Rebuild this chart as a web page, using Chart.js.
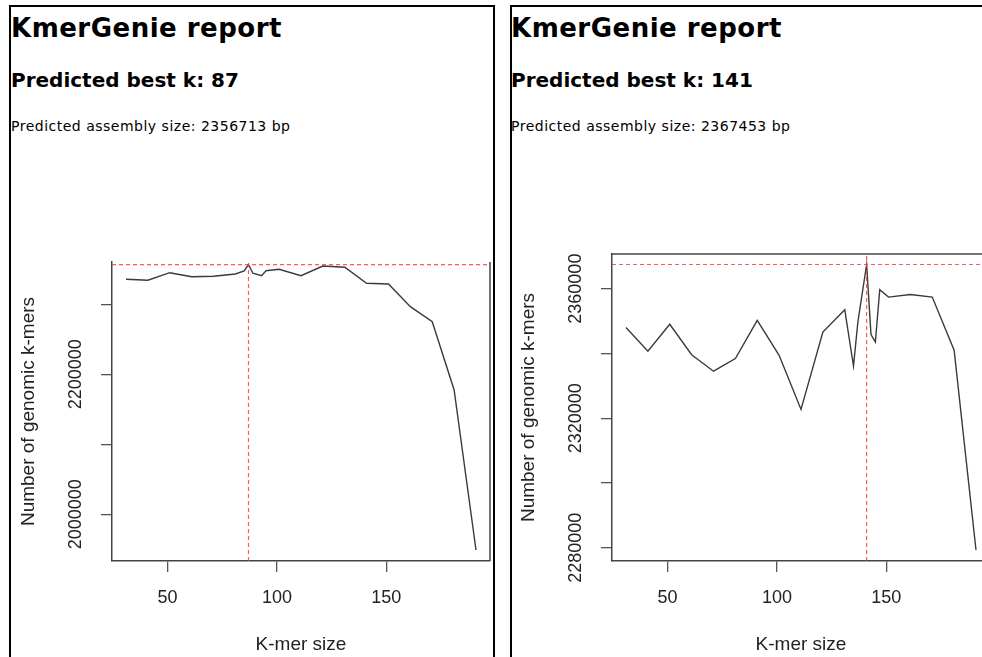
<!DOCTYPE html>
<html>
<head>
<meta charset="utf-8">
<title>KmerGenie report</title>
<script src="https://cdn.jsdelivr.net/npm/chart.js@4.4.1/dist/chart.umd.min.js"></script>
<style>
    html, body {
        margin: 0;
        padding: 0;
        width: 982px;
        height: 657px;
        overflow: hidden;
        background: #fff;
    }
    .panel {
        position: absolute;
        top: 5px;
        height: 700px;
        border: 2px solid #000;
        border-bottom: none;
        box-sizing: border-box;
    }
    .txt {
        position: absolute;
        font-family: "DejaVu Sans", sans-serif;
        line-height: 1;
        white-space: nowrap;
        color: #000;
    }
    .h1 { font-size: 26px; font-weight: bold; letter-spacing: 0.5px; }
    .h2 { font-size: 20px; font-weight: bold; }
    .small { font-size: 14px; letter-spacing: 0.5px; }
    canvas { position: absolute; }
</style>
</head>
<body>

<div class="panel" style="left:9px; width:486px;"></div>
<div class="panel" style="left:510px; width:600px;"></div>

<div class="txt h1" style="left:11px; top:15px;">KmerGenie report</div>
<div class="txt h2" style="left:11px; top:70px;">Predicted best k: <span id="bestLeft"></span></div>
<div class="txt small" style="left:11px; top:119px;">Predicted assembly size: <span id="sizeLeft"></span> bp</div>

<div class="txt h1" style="left:511px; top:15px;">KmerGenie report</div>
<div class="txt h2" style="left:511px; top:70px;">Predicted best k: <span id="bestRight"></span></div>
<div class="txt small" style="left:511px; top:119px;">Predicted assembly size: <span id="sizeRight"></span> bp</div>

<canvas id="leftChart" style="left:12px; top:150px;"></canvas>
<canvas id="rightChart" style="left:512px; top:150px;"></canvas>

<script>
// first run
const leftK = [31, 41, 51, 61, 71, 81, 85, 87, 89, 93, 95, 101, 111, 121, 131, 141, 151, 161, 171, 181, 191];
const leftCounts = [2335700, 2334300, 2345100, 2339400, 2340000, 2343300, 2347600, 2356713, 2344300, 2340900, 2348000,
    2350000, 2340900, 2354700, 2352900, 2330000, 2329000, 2296600, 2275100, 2177600, 1949000];
const leftBestK = 87;
const leftBestSize = 2356713;
const leftYTicks = [2000000, 2100000, 2200000, 2300000];
const leftYLabels = [2000000, 2200000];
const leftYRange = [1933300, 2360400];

// second run
const rightK = [31, 41, 51, 61, 71, 81, 91, 101, 111, 121, 131, 135, 137, 141, 143, 145, 147, 151, 161, 171, 181, 191];
const rightCounts = [2348000, 2340700, 2349000, 2339600, 2334500, 2338400, 2350200, 2339400, 2322700, 2346600, 2353500,
    2336100, 2349700, 2367453, 2345800, 2343500, 2359700, 2357400, 2358200, 2357400, 2341000, 2279300];
const rightBestK = 141;
const rightBestSize = 2367453;
const rightYTicks = [2280000, 2300000, 2320000, 2340000, 2360000];
const rightYLabels = [2280000, 2320000, 2360000];
const rightYRange = [2275900, 2370700];

const xTicks = [50, 100, 150];
const xRange = [24.6, 197.4];

document.addEventListener('DOMContentLoaded', () => {
    document.getElementById('bestLeft').textContent = leftBestK;
    document.getElementById('sizeLeft').textContent = leftBestSize;
    document.getElementById('bestRight').textContent = rightBestK;
    document.getElementById('sizeRight').textContent = rightBestSize;

    renderKmerChart('leftChart', {
        k: leftK, counts: leftCounts, bestK: leftBestK, bestSize: leftBestSize,
        yTicks: leftYTicks, yLabels: leftYLabels, yRange: leftYRange,
        topPad: 112, sides: ['right'],
    });
    renderKmerChart('rightChart', {
        k: rightK, counts: rightCounts, bestK: rightBestK, bestSize: rightBestSize,
        yTicks: rightYTicks, yLabels: rightYLabels, yRange: rightYRange,
        topPad: 104, sides: ['top'],
    });
});

const axisFont = { family: '"Liberation Sans", Arial, sans-serif', size: 19 };
const tickFont = { family: '"Liberation Sans", Arial, sans-serif', size: 18 };

// extra frame sides and rotated y labels, like R's plot()
const rFramePlugin = {
    id: 'rFrame',
    afterDraw(chart, args, opts) {
        const { ctx, chartArea, scales } = chart;
        ctx.save();
        ctx.strokeStyle = '#444';
        ctx.lineWidth = 1.5;
        ctx.beginPath();
        if (opts.sides.includes('right')) {
            ctx.moveTo(chartArea.right, chartArea.top);
            ctx.lineTo(chartArea.right, chartArea.bottom);
        }
        if (opts.sides.includes('top')) {
            ctx.moveTo(chartArea.left, chartArea.top);
            ctx.lineTo(chartArea.right + 20, chartArea.top);
        }
        ctx.stroke();

        ctx.fillStyle = '#222';
        ctx.font = tickFont.size + 'px ' + tickFont.family;
        ctx.textAlign = 'center';
        ctx.textBaseline = 'middle';
        opts.labels.forEach(value => {
            const y = scales.y.getPixelForValue(value);
            ctx.save();
            ctx.translate(64, y);
            ctx.rotate(-Math.PI / 2);
            ctx.fillText(String(value), 0, 0);
            ctx.restore();
        });
        ctx.restore();
    },
};

function renderKmerChart(id, d) {
    const canvas = document.getElementById(id);
    canvas.width = 480;
    canvas.height = 507;

    const points = d.k.map((k, i) => ({ x: k, y: d.counts[i] }));
    const dashed = {
        borderColor: 'rgba(255, 60, 60, 0.85)',
        borderWidth: 1.2,
        borderDash: [4, 3],
        pointRadius: 0,
        fill: false,
    };

    new Chart(canvas.getContext('2d'), {
        type: 'line',
        data: {
            datasets: [
                Object.assign({ data: [{ x: xRange[0], y: d.bestSize }, { x: xRange[1], y: d.bestSize }] }, dashed),
                Object.assign({ data: [{ x: d.bestK, y: d.yRange[0] }, { x: d.bestK, y: d.yRange[1] }] }, dashed),
                {
                    data: points,
                    borderColor: '#3a3a3a',
                    borderWidth: 1.4,
                    pointRadius: 0,
                    tension: 0,
                    fill: false,
                },
            ],
        },
        options: {
            responsive: false,
            animation: false,
            events: [],
            layout: { padding: { top: d.topPad, right: 2, left: 0, bottom: 0 } },
            plugins: {
                legend: { display: false },
                tooltip: { enabled: false },
                rFrame: { sides: d.sides, labels: d.yLabels },
            },
            scales: {
                x: {
                    type: 'linear',
                    min: xRange[0],
                    max: xRange[1],
                    afterBuildTicks: scale => { scale.ticks = xTicks.map(v => ({ value: v })); },
                    afterFit: scale => { scale.height = 96; },
                    grid: { drawOnChartArea: false, drawTicks: true, tickLength: 11, color: '#555', lineWidth: 1.3 },
                    border: { display: true, color: '#444', width: 1.5 },
                    ticks: { autoSkip: false, maxRotation: 0, padding: 15, color: '#222', font: tickFont },
                    title: { display: true, text: 'K-mer size', color: '#222', font: axisFont, padding: { top: 0, bottom: 1 } },
                },
                y: {
                    type: 'linear',
                    min: d.yRange[0],
                    max: d.yRange[1],
                    afterBuildTicks: scale => { scale.ticks = d.yTicks.map(v => ({ value: v })); },
                    afterFit: scale => { scale.width = 100; },
                    grid: { drawOnChartArea: false, drawTicks: true, tickLength: 11, color: '#555', lineWidth: 1.3 },
                    border: { display: true, color: '#444', width: 1.5 },
                    ticks: { display: false, autoSkip: false },
                    title: { display: true, text: 'Number of genomic k-mers', color: '#222', font: axisFont, padding: { top: 5, bottom: 0 } },
                },
            },
        },
        plugins: [rFramePlugin],
    });
}
</script>
</body>
</html>
